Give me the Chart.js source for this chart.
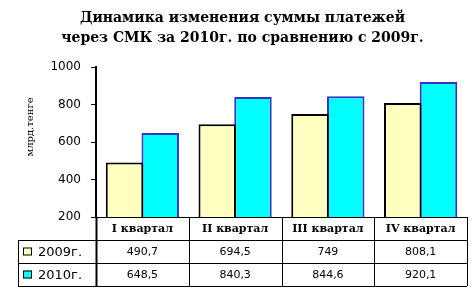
<!DOCTYPE html>
<html>
<head>
<meta charset="utf-8">
<script src="https://cdn.jsdelivr.net/npm/chart.js@4"></script>
<style>
  html, body { margin: 0; padding: 0; background: #fff; }
  #wrap { width: 475px; height: 296px; }
</style>
</head>
<body>
<div id="wrap"><canvas id="chart" width="475" height="296"></canvas></div>
<script>
const quarters = ['I квартал', 'II квартал', 'III квартал', 'IV квартал'];
const seriesNames = ['2009г.', '2010г.'];
const values2009 = [490.7, 694.5, 749, 808.1];
const values2010 = [648.5, 840.3, 844.6, 920.1];
const yTicks = [200, 400, 600, 800, 1000];
const yTitle = 'млрд.тенге';

const fills = ['#FFFFC0', '#00FFFF'];
const borders = ['#000000', '#3333CC'];

// table under the plot: header row with quarters, then one row per series
const tablePlugin = {
  id: 'tablePlugin',
  afterDraw: function(chart) {
    const ctx = chart.ctx;
    const area = chart.chartArea;
    const x = chart.scales.x;
    const rowH = 23;
    const legendLeft = 18;
    const top = area.bottom;
    const rows = [values2009, values2010];
    const bottom = top + rowH * 3;
    const colW = (area.right - area.left) / quarters.length;

    ctx.save();
    ctx.strokeStyle = '#000';
    ctx.lineWidth = 1;

    // axis line / top border
    ctx.beginPath();
    ctx.moveTo(area.left, top + 0.5);
    ctx.lineTo(area.right, top + 0.5);
    ctx.stroke();

    // horizontal lines
    for (let r = 1; r <= 3; r++) {
      const y = Math.round(top + rowH * r) + 0.5;
      ctx.beginPath();
      ctx.moveTo(legendLeft, y);
      ctx.lineTo(area.right, y);
      ctx.stroke();
    }
    // left border of legend column
    ctx.beginPath();
    ctx.moveTo(legendLeft + 0.5, top + rowH);
    ctx.lineTo(legendLeft + 0.5, bottom);
    ctx.stroke();

    // vertical lines
    for (let i = 0; i <= quarters.length; i++) {
      const vx = Math.round(area.left + colW * i) + 0.5;
      ctx.lineWidth = i === 0 ? 2 : 1;
      ctx.beginPath();
      ctx.moveTo(vx, top);
      ctx.lineTo(vx, bottom);
      ctx.stroke();
    }

    ctx.fillStyle = '#000';
    ctx.textAlign = 'center';
    ctx.textBaseline = 'middle';
    quarters.forEach(function(q, i) {
      const cx = x.getPixelForValue(i);
      ctx.font = 'bold 11px "DejaVu Serif", serif';
      ctx.fillText(q, cx, top + rowH / 2 + 1);
      ctx.font = '11px "DejaVu Sans", sans-serif';
      rows.forEach(function(vals, r) {
        ctx.fillText(String(vals[i]).replace('.', ','), cx, top + rowH * (r + 1.5) + 1);
      });
    });

    // legend keys
    ctx.textAlign = 'left';
    seriesNames.forEach(function(name, r) {
      const cy = top + rowH * (r + 1.5);
      ctx.fillStyle = fills[r];
      ctx.fillRect(legendLeft + 5, cy - 4, 9, 8);
      ctx.strokeStyle = '#000';
      ctx.lineWidth = 1;
      ctx.strokeRect(legendLeft + 5.5, cy - 3.5, 8, 7);
      ctx.fillStyle = '#000';
      ctx.font = '13px "DejaVu Sans", sans-serif';
      ctx.fillText(name, legendLeft + 20, cy + 1);
    });

    // y axis title
    ctx.save();
    ctx.translate(30, 127);
    ctx.rotate(-Math.PI / 2);
    ctx.textAlign = 'center';
    ctx.font = '10px "DejaVu Serif", serif';
    ctx.fillText(yTitle, 0, 0);
    ctx.restore();

    ctx.restore();
  }
};

new Chart(document.getElementById('chart').getContext('2d'), {
  type: 'bar',
  data: {
    labels: quarters,
    datasets: [
      {
        label: seriesNames[0],
        data: values2009,
        backgroundColor: fills[0],
        borderColor: borders[0],
        borderWidth: 2,
        categoryPercentage: 0.77,
        barPercentage: 1.05
      },
      {
        label: seriesNames[1],
        data: values2010,
        backgroundColor: fills[1],
        borderColor: borders[1],
        borderWidth: 2,
        categoryPercentage: 0.77,
        barPercentage: 1.05
      }
    ]
  },
  options: {
    responsive: false,
    animation: false,
    layout: { padding: { left: 18, right: 8, top: 0, bottom: 79 } },
    plugins: {
      legend: { display: false },
      tooltip: { enabled: false },
      title: {
        display: true,
        text: ['Динамика изменения суммы платежей', 'через СМК за 2010г. по сравнению с 2009г.'],
        color: '#000',
        font: { family: '"DejaVu Serif", serif', size: 14, weight: 'bold', lineHeight: 20 / 14 },
        padding: { top: 8, bottom: 19 }
      }
    },
    scales: {
      x: { display: false },
      y: {
        min: 200,
        max: 1000,
        afterFit: function(scale) { scale.width = 78; },
        afterBuildTicks: function(scale) { scale.ticks = yTicks.map(v => ({ value: v })); },
        border: { display: true, color: '#000', width: 2 },
        grid: { drawOnChartArea: false, drawTicks: true, tickLength: 5, color: '#000' },
        ticks: {
          color: '#000',
          padding: 10,
          font: { family: '"DejaVu Sans", sans-serif', size: 12 },
          callback: function(value) { return String(value); }
        }
      }
    }
  },
  plugins: [tablePlugin]
});
</script>
</body>
</html>
